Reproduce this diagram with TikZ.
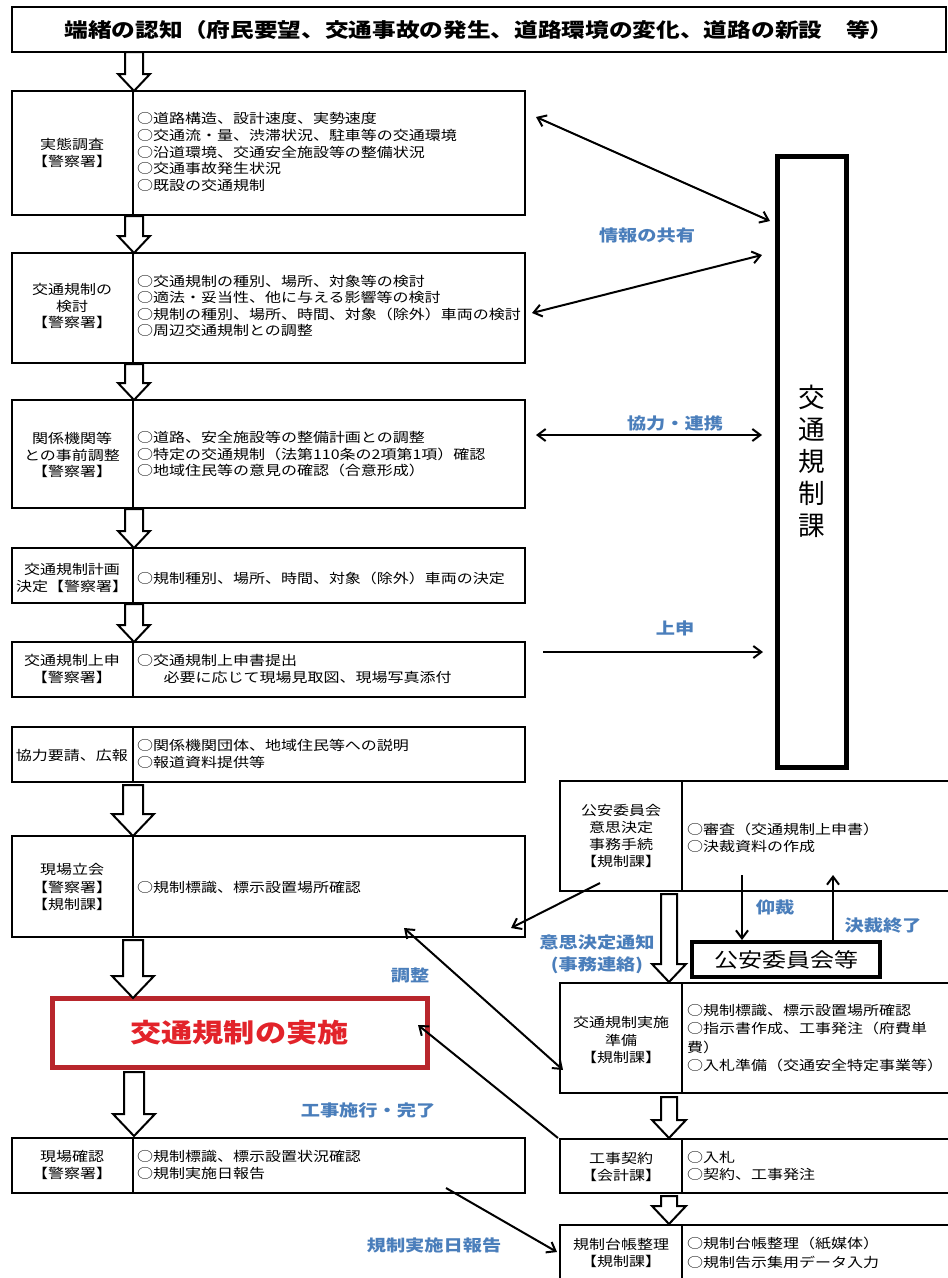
\documentclass[tikz,border=0pt]{standalone}
\usepackage{fontspec}
\setmainfont{Noto Sans CJK JP}[FakeStretch=1.2]
\newfontfamily\jpplain{Noto Sans CJK JP}
\usetikzlibrary{arrows.meta}
\definecolor{lblue}{HTML}{4A7EBB}
\definecolor{redline}{HTML}{B8262C}
\definecolor{redtext}{HTML}{E2232A}
\newcommand{\LB}[3]{%
  \node[obox, minimum width={513*0.75pt}, minimum height={(#3-#2)*0.75pt}] (#1) at (12,#2) {};
  \draw[divl] (133,#2) -- (133,#3);}
\newcommand{\RB}[3]{%
  \node[rbox, minimum width={395*0.75pt}, minimum height={(#3-#2)*0.75pt}] (#1) at (560,#2) {};
  \draw[divl] (682,#2) -- (682,#3);}
\newcommand{\harrow}[6]{%
  \draw[harr] ({#1-#4},#2) -- ({#1+#4},#2) -- ({#1+#4},{#3-#6}) -- ({#1+#5},{#3-#6}) -- (#1,#3) -- ({#1-#5},{#3-#6}) -- ({#1-#4},{#3-#6}) -- cycle;}
\begin{document}
\begin{tikzpicture}[x=0.75pt,y=-0.75pt,
  every node/.style={inner sep=0pt, outer sep=0pt},
  obox/.style={draw, line width=1.9pt, anchor=north west},
  rbox/.style={draw, line width=1.1pt, anchor=north west},
  divl/.style={line width=0.8pt},
  itm/.style={anchor=west, align=left, font=\fontsize{10pt}{12.4pt}\selectfont},
  lab/.style={anchor=center, align=center, font=\fontsize{10pt}{12.6pt}\selectfont},
  ritm/.style={anchor=west, align=left, font=\fontsize{10pt}{13.9pt}\selectfont},
  rlab/.style={anchor=center, align=center, font=\fontsize{10pt}{13pt}\selectfont},
  harr/.style={draw, fill=white, line width=1.5pt, line join=miter},
  conn/.style={line width=1.5pt, -{Straight Barb[length=6pt,width=9pt]}},
  dconn/.style={line width=1.5pt, {Straight Barb[length=6pt,width=9pt]}-{Straight Barb[length=6pt,width=9pt]}},
  blbl/.style={text=lblue, align=center, font=\fontsize{12pt}{16.5pt}\bfseries\selectfont}
]
\useasboundingbox (0,0) rectangle (948,1278);
\fill[white] (0,0) rectangle (948,1278);
\clip (0,0) rectangle (948,1278);

% title
\node[draw, line width=1.4pt, anchor=north west, minimum width={934*0.75pt}, minimum height={45*0.75pt},
      font=\fontsize{14.8pt}{17pt}\bfseries\selectfont] (T) at (12,7)
  {端緒の認知（府民要望、交通事故の発生、道路環境の変化、道路の新設　等）};

% left boxes
\LB{A}{91}{215}
\node[lab] (Al) at (72,153) {実態調査\\【警察署】};
\node[itm] (At) at (137,152) {○道路構造、設計速度、実勢速度\\○交通流・量、渋滞状況、駐車等の交通環境\\○沿道環境、交通安全施設等の整備状況\\○交通事故発生状況\\○既設の交通規制};

\LB{B}{253}{363}
\node[lab] (Bl) at (72,306) {交通規制の\\検討\\【警察署】};
\node[itm] (Bt) at (137,306) {○交通規制の種別、場所、対象等の検討\\○適法・妥当性、他に与える影響等の検討\\○規制の種別、場所、時間、対象（除外）車両の検討\\○周辺交通規制との調整};

\LB{C}{400}{508}
\node[lab] (Cl) at (72,455) {関係機関等\\との事前調整\\【警察署】};
\node[itm] (Ct) at (137,454) {○道路、安全施設等の整備計画との調整\\○特定の交通規制（法第110条の2項第1項）確認\\○地域住民等の意見の確認（合意形成）};

\LB{D}{548}{603}
\node[lab] (Dl) at (72,578) {交通規制計画\\決定【警察署】};
\node[itm] (Dt) at (137,578) {○規制種別、場所、時間、対象（除外）車両の決定};

\LB{E}{642}{697}
\node[lab] (El) at (72,669) {交通規制上申\\【警察署】};
\node[itm] (Et) at (137,669) {○交通規制上申書提出\\\hspace*{20pt}必要に応じて現場見取図、現場写真添付};

\LB{F}{727}{782}
\node[lab] (Fl) at (72,755) {協力要請、広報};
\node[itm] (Ft) at (137,754) {○関係機関団体、地域住民等への説明\\○報道資料提供等};

\LB{G}{836}{937}
\node[lab, font=\fontsize{10pt}{13.2pt}\selectfont] (Gl) at (72,887) {現場立会\\【警察署】\\【規制課】};
\node[itm] (Gt) at (137,887) {○規制標識、標示設置場所確認};

\node[draw=redline, line width=3.75pt, fill=white, anchor=north west,
      minimum width={375*0.75pt}, minimum height={69*0.75pt},
      text=redtext, font=\fontsize{19.5pt}{22pt}\bfseries\selectfont] (R) at (52,998) {交通規制の実施};

\LB{H}{1138}{1193}
\node[lab] (Hl) at (72,1165) {現場確認\\【警察署】};
\node[itm] (Ht) at (137,1165) {○規制標識、標示設置状況確認\\○規制実施日報告};

% right column
\node[draw, line width=3.75pt, anchor=north west, minimum width={69*0.75pt}, minimum height={611*0.75pt},
      font=\jpplain\fontsize{20pt}{24pt}\selectfont, align=center] (K) at (777,156) {交\\通\\規\\制\\課};

\RB{I}{781}{891}
\node[rlab, font=\fontsize{10pt}{12.6pt}\selectfont] (Il) at (621,836) {公安委員会\\意思決定\\事務手続\\【規制課】};
\node[ritm, font=\fontsize{10pt}{12.4pt}\selectfont] (It) at (687,838) {○審査（交通規制上申書）\\○決裁資料の作成};

\node[draw, line width=3pt, anchor=north west, minimum width={188*0.75pt}, minimum height={35*0.75pt},
      font=\fontsize{15pt}{18pt}\selectfont] (P) at (692,942) {公安委員会等};

\RB{J}{983}{1093}
\node[rlab] (Jl) at (621,1040) {交通規制実施\\準備\\【規制課】};
\node[ritm] (Jt) at (687,1038) {○規制標識、標示設置場所確認\\○指示書作成、工事発注（府費単\\費）\\○入札準備（交通安全特定事業等）};

\RB{Kc}{1139}{1193}
\node[rlab] (Kl) at (621,1167) {工事契約\\【会計課】};
\node[ritm, font=\fontsize{10pt}{12.5pt}\selectfont] (Kt) at (687,1166) {○入札\\○契約、工事発注};

\RB{L}{1225}{1295}
\node[rlab] (Ll) at (621,1253) {規制台帳整理\\【規制課】};
\node[ritm] (Lt) at (687,1253) {○規制台帳整理（紙媒体）\\○規制告示集用データ入力};

% hollow arrows
\harrow{134}{52}{91}{9}{16}{17}
\harrow{134}{216}{253}{9}{16}{17}
\harrow{134}{364}{400}{9}{16}{17}
\harrow{134}{509}{548}{9}{16}{17}
\harrow{134}{604}{642}{9}{16}{17}
\harrow{133}{785}{836}{10}{21}{22}
\harrow{133}{940}{998}{10}{21}{22}
\harrow{134}{1072}{1136}{10}{21}{22}
\harrow{669}{894}{982}{8}{17}{18}
\harrow{669}{1097}{1138}{8}{17}{18}
\harrow{669}{1196}{1224}{8}{17}{18}

% connector end points
\coordinate (c1a) at (536,117); \coordinate (c1b) at (770,221);
\coordinate (c2a) at (532,313); \coordinate (c2b) at (762,255);
\coordinate (c3a) at (536,435); \coordinate (c3b) at (762,435);
\coordinate (c4a) at (543,652); \coordinate (c4b) at (763,652);
\coordinate (c5a) at (600,883); \coordinate (c5b) at (511,928);
\coordinate (c6a) at (404,928); \coordinate (c6b) at (563,1070);
\coordinate (c7a) at (558,1138); \coordinate (c7b) at (418,1025);
\coordinate (c8a) at (446,1188); \coordinate (c8b) at (557,1252);
\coordinate (c9a) at (742,875); \coordinate (c9b) at (742,940);
\coordinate (c10a) at (833,940); \coordinate (c10b) at (833,875);

\draw[dconn] (c1a) -- (c1b);
\draw[dconn] (c2a) -- (c2b);
\draw[dconn] (c3a) -- (c3b);
\draw[conn] (c4a) -- (c4b);
\draw[conn] (c5a) -- (c5b);
\draw[dconn] (c6a) -- (c6b);
\draw[conn] (c7a) -- (c7b);
\draw[conn] (c8a) -- (c8b);
\draw[conn] (c9a) -- (c9b);
\draw[conn] (c10a) -- (c10b);

% blue labels
\node[blbl] (l1) at (647,235) {情報の共有};
\node[blbl] (l2) at (675,423) {協力・連携};
\node[blbl] (l3) at (675,628) {上申};
\node[blbl] (l4) at (775,907) {仰裁};
\node[blbl] (l5) at (883,925) {決裁終了};
\node[blbl] (l6) at (597,954) {意思決定通知\\(事務連絡)};
\node[blbl] (l7) at (410,975) {調整};
\node[blbl] (l8) at (368,1110) {工事施行・完了};
\node[blbl] (l9) at (434,1245) {規制実施日報告};
\end{tikzpicture}
\end{document}
